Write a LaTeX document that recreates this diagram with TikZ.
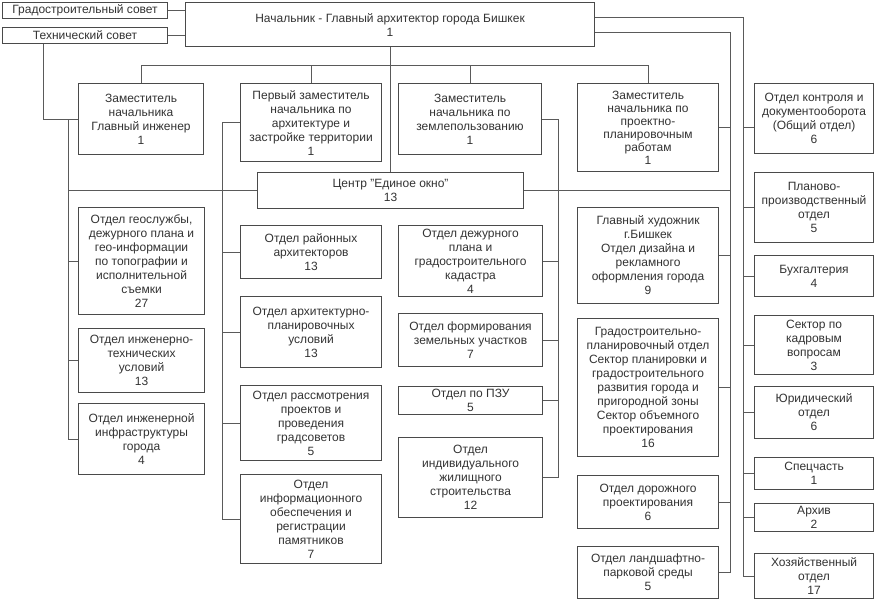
\documentclass[tikz,border=0pt]{standalone}
\usepackage{fontspec}
\setmainfont{Liberation Sans}
\usetikzlibrary{calc}
\definecolor{boxc}{HTML}{4A4A4A}
\definecolor{linec}{HTML}{5A5A5A}
\definecolor{txt}{HTML}{333333}
\tikzset{
  orgbox/.style={draw=boxc, line width=1.1pt, fill=white, align=center, inner sep=0pt,
    font=\fontsize{12}{14}\selectfont, text=txt},
  conn/.style={draw=linec, line width=1pt}
}
\newcommand\obox[6]{%
  \node[orgbox, anchor=north west, minimum width={(#4-#2)*1pt}, minimum height={(#5-#3)*1pt}] (#1) at (#2,#3) {#6};}
\begin{document}
\begin{tikzpicture}[x=1pt,y=-1pt]
\useasboundingbox (0,0) rectangle (876,600);
% top
\obox{gs}{2}{2}{167}{18}{Градостроительный совет}
\obox{ts}{2}{27}{167}{43}{Технический совет}
\obox{main}{185}{2}{594}{46}{Начальник - Главный архитектор города Бишкек\\1}
% deputies
\obox{d1}{78}{83}{203}{154}{Заместитель\\начальника\\Главный инженер\\1}
\obox{d2}{240}{83}{381}{161}{Первый заместитель\\начальника по\\архитектуре и\\застройке территории\\1}
\obox{d3}{398}{83}{541}{154}{Заместитель\\начальника по\\землепользованию\\1}
\node[orgbox, font=\fontsize{12}{13}\selectfont, anchor=north west, minimum width=141pt, minimum height=88pt] (d4) at (577,83) {Заместитель\\начальника по\\проектно-\\планировочным\\работам\\1};
\obox{center}{257}{172}{523}{208}{Центр "Единое окно"\\13}
% column 1
\obox{c1a}{78}{207}{204}{314}{Отдел геослужбы,\\дежурного плана и\\гео-информации\\по топографии и\\исполнительной\\съемки\\27}
\obox{c1b}{78}{328}{204}{392}{Отдел инженерно-\\технических\\условий\\13}
\obox{c1c}{78}{403}{204}{474}{Отдел инженерной\\инфраструктуры\\города\\4}
% column 2
\obox{c2a}{240}{225}{381}{278}{Отдел районных\\архитекторов\\13}
\obox{c2b}{240}{296}{381}{367}{Отдел архитектурно-\\планировочных\\условий\\13}
\obox{c2c}{240}{385}{381}{460}{Отдел рассмотрения\\проектов и\\проведения\\градсоветов\\5}
\obox{c2d}{240}{474}{381}{563}{Отдел\\информационного\\обеспечения и\\регистрации\\памятников\\7}
% column 3
\obox{c3a}{398}{225}{542}{296}{Отдел дежурного\\плана и\\градостроительного\\кадастра\\4}
\obox{c3b}{398}{313}{542}{366}{Отдел формирования\\земельных участков\\7}
\obox{c3c}{398}{386}{542}{414}{Отдел по ПЗУ\\5}
\obox{c3d}{398}{437}{542}{517}{Отдел\\индивидуального\\жилищного\\строительства\\12}
% column 4
\obox{c4a}{577}{207}{718}{303}{Главный художник\\г.Бишкек\\Отдел дизайна и\\рекламного\\оформления города\\9}
\obox{c4b}{577}{318}{718}{456}{Градостроительно-\\планировочный отдел\\Сектор планировки и\\градостроительного\\развития города и\\пригородной зоны\\Сектор объемного\\проектирования\\16}
\obox{c4c}{577}{475}{718}{528}{Отдел дорожного\\проектирования\\6}
\obox{c4d}{577}{546}{718}{598}{Отдел ландшафтно-\\парковой среды\\5}
% right column
\obox{r1}{754}{83}{873}{153}{Отдел контроля и\\документооборота\\(Общий отдел)\\6}
\obox{r2}{754}{172}{873}{242}{Планово-\\производственный\\отдел\\5}
\obox{r3}{754}{255}{873}{296}{Бухгалтерия\\4}
\obox{r4}{754}{315}{873}{374}{Сектор по\\кадровым\\вопросам\\3}
\obox{r5}{754}{386}{873}{438}{Юридический\\отдел\\6}
\obox{r6}{754}{457}{873}{489}{Спецчасть\\1}
\obox{r7}{754}{503}{873}{531}{Архив\\2}
\obox{r8}{754}{553}{873}{598}{Хозяйственный\\отдел\\17}
% junction coordinates
\coordinate (bus) at (0,65);
\coordinate (t1) at (68,119);
\coordinate (t2) at (222,0);
\coordinate (t3) at (558,0);
\coordinate (t4) at (730,0);
\coordinate (t5) at (743,0);
\coordinate (mA) at ($(main.north east)!0.34!(main.south east)$);
\coordinate (mB) at ($(main.north east)!0.68!(main.south east)$);
\coordinate (tsA) at ($(ts.south west)!0.25!(ts.south east)$);
% connectors
\draw[conn] (gs.east) -- (gs.east -| main.west);
\draw[conn] (ts.east) -- (ts.east -| main.west);
\draw[conn] (tsA) |- (d1.west);
\draw[conn] (main.south) -- (main.south |- center.north);
\draw[conn] (d1.north) -- (d1.north |- bus) -- (d4.north |- bus) -- (d4.north);
\draw[conn] (d2.north) -- (d2.north |- bus);
\draw[conn] (d3.north) -- (d3.north |- bus);
% column 1 trunk
\draw[conn] (t1) |- (c1c.west);
\draw[conn] (c1a.west) -- (c1a.west -| t1);
\draw[conn] (c1b.west) -- (c1b.west -| t1);
\draw[conn] (center.west) -- (center.west -| t1);
% column 2 trunk
\draw[conn] (d2.west) -- (d2.west -| t2) |- (c2d.west);
\draw[conn] (c2a.west) -- (c2a.west -| t2);
\draw[conn] (c2b.west) -- (c2b.west -| t2);
\draw[conn] (c2c.west) -- (c2c.west -| t2);
% column 3 trunk
\draw[conn] (d3.east) -- (d3.east -| t3) |- (c3d.east);
\draw[conn] (c3a.east) -- (c3a.east -| t3);
\draw[conn] (c3b.east) -- (c3b.east -| t3);
\draw[conn] (c3c.east) -- (c3c.east -| t3);
% column 4 trunk
\draw[conn] (mB) -- (mB -| t4) |- (c4d.east);
\draw[conn] (d4.east) -- (d4.east -| t4);
\draw[conn] (center.east) -- (center.east -| t4);
\draw[conn] (c4a.east) -- (c4a.east -| t4);
\draw[conn] (c4b.east) -- (c4b.east -| t4);
\draw[conn] (c4c.east) -- (c4c.east -| t4);
% right trunk
\draw[conn] (mA) -- (mA -| t5) |- (r8.west);
\draw[conn] (t5 |- d4.east) -- (r1.west |- d4.east);
\draw[conn] (r2.west) -- (r2.west -| t5);
\draw[conn] (r3.west) -- (r3.west -| t5);
\draw[conn] (r4.west) -- (r4.west -| t5);
\draw[conn] (r5.west) -- (r5.west -| t5);
\draw[conn] (r6.west) -- (r6.west -| t5);
\draw[conn] (r7.west) -- (r7.west -| t5);
\end{tikzpicture}
\end{document}
